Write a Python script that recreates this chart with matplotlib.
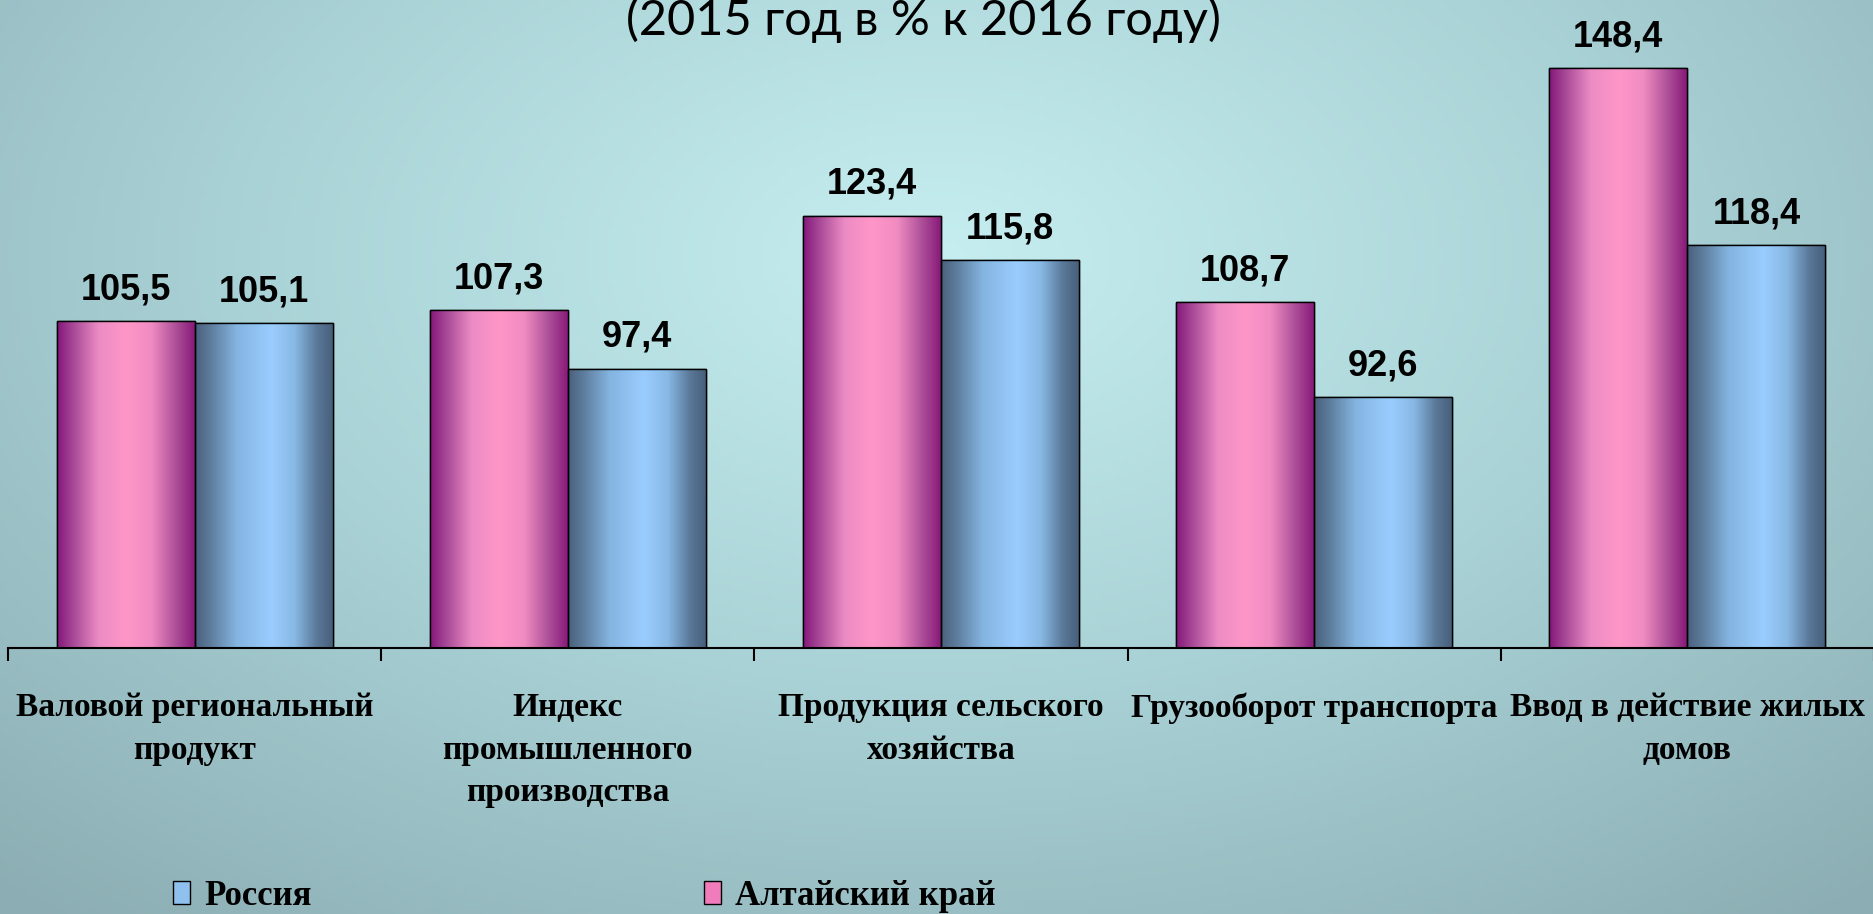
import numpy as np
import matplotlib
matplotlib.use("Agg")
import matplotlib.pyplot as plt
from matplotlib.colors import LinearSegmentedColormap
from matplotlib.patches import Patch

# данные
категории = [
    "Валовой региональный\nпродукт",
    "Индекс\nпромышленного\nпроизводства",
    "Продукция сельского\nхозяйства",
    "Грузооборот транспорта",
    "Ввод в действие жилых\nдомов",
]
алтай = [105.5, 107.3, 123.4, 108.7, 148.4]
россия = [105.1, 97.4, 115.8, 92.6, 118.4]

заголовок = "(2015 год в % к 2016 году)"

W, H = 1874, 914
fig = plt.figure(figsize=(W / 100, H / 100), dpi=100)

# фон - радиальный градиент
bg = fig.add_axes([0, 0, 1, 1], zorder=-10)
xx, yy = np.meshgrid(np.linspace(0, 1, 400), np.linspace(0, 1, 200))
r = np.sqrt(((xx - 0.5) / 0.75) ** 2 + ((yy - 0.72) / 0.95) ** 2)
r = np.clip(r, 0, 1)
bg_cmap = LinearSegmentedColormap.from_list("bg", ["#c6eef0", "#a9d2d6", "#8badb3"])
bg.imshow(r, cmap=bg_cmap, extent=[0, 1, 0, 1], origin="lower", aspect="auto", vmin=0, vmax=1)
bg.axis("off")

ax = fig.add_axes([8 / W, 1 - 648 / H, 1866 / W, 648 / H])
ax.set_facecolor("none")

x = np.arange(len(категории)) + 0.5
w = 0.37

bars_a = ax.bar(x - w / 2, алтай, w, color="#ff94c8", edgecolor="black", linewidth=1.0, zorder=2)
bars_r = ax.bar(x + w / 2, россия, w, color="#99ccff", edgecolor="black", linewidth=1.0, zorder=2)

ax.set_xlim(0, len(категории))
ax.set_ylim(50, 160)

# градиент "цилиндр" на столбиках
pink = LinearSegmentedColormap.from_list("p", [
    (0.0, "#84177a"), (0.12, "#a94a98"), (0.3, "#ec8cc4"), (0.5, "#ff96c8"),
    (0.68, "#f08cc2"), (0.85, "#b0529a"), (1.0, "#861878")])
blue = LinearSegmentedColormap.from_list("b", [
    (0.0, "#4a607c"), (0.12, "#5f7f9f"), (0.3, "#84b4e0"), (0.55, "#9acdff"),
    (0.72, "#88b8e4"), (0.88, "#5a7898"), (1.0, "#465e7a")])
grad = np.linspace(0, 1, 256).reshape(1, -1)
y0 = ax.get_ylim()[0]
for bars, cm in [(bars_a, pink), (bars_r, blue)]:
    for rect in bars:
        bx, bw, bh = rect.get_x(), rect.get_width(), rect.get_height()
        im = ax.imshow(grad, cmap=cm, extent=[bx, bx + bw, y0, bh], aspect="auto", zorder=2.5)
        im.set_clip_path(rect)
        ax.add_patch(plt.Rectangle((bx, y0), bw, bh - y0, fill=False,
                                   edgecolor="black", linewidth=1.0, zorder=3))

for bars, vals in [(bars_a, алтай), (bars_r, россия)]:
    for rect, v in zip(bars, vals):
        ax.annotate(f"{v:.1f}".replace(".", ","),
                    (rect.get_x() + rect.get_width() / 2, v),
                    xytext=(0, 10), textcoords="offset points",
                    ha="center", va="bottom", fontsize=26, fontweight="bold",
                    family="Liberation Sans")

for s in ["left", "right", "top"]:
    ax.spines[s].set_visible(False)
ax.spines["bottom"].set_linewidth(1.5)
ax.set_yticks([])
ax.set_xticks(np.arange(len(категории) + 1))
ax.set_xticklabels([])
ax.tick_params(axis="x", which="major", length=9, width=1.5, direction="out")
ax.set_xticks(x, minor=True)
ax.set_xticklabels(категории, minor=True, fontsize=24, fontweight="bold",
                   family="Liberation Serif", linespacing=1.48)
ax.tick_params(axis="x", which="minor", length=0, pad=32)

fig.text(0.493, 1 - 35 / H, заголовок, ha="center", va="baseline",
         fontsize=35, family="Lato")

handles = [Patch(facecolor="#8fc0ee", edgecolor="black", label="Россия"),
           Patch(facecolor="#f07cbc", edgecolor="black", label="Алтайский край")]
fig.legend(handles=handles, loc="upper left", bbox_to_anchor=(173 / W, 1 - 880 / H),
           ncol=2, frameon=False, borderpad=0, borderaxespad=0,
           handlelength=0.5, handleheight=0.65, handletextpad=0.4, columnspacing=11.3,
           prop={"family": "Liberation Serif", "weight": "bold", "size": 25})

fig.savefig("out.png", dpi=100)
